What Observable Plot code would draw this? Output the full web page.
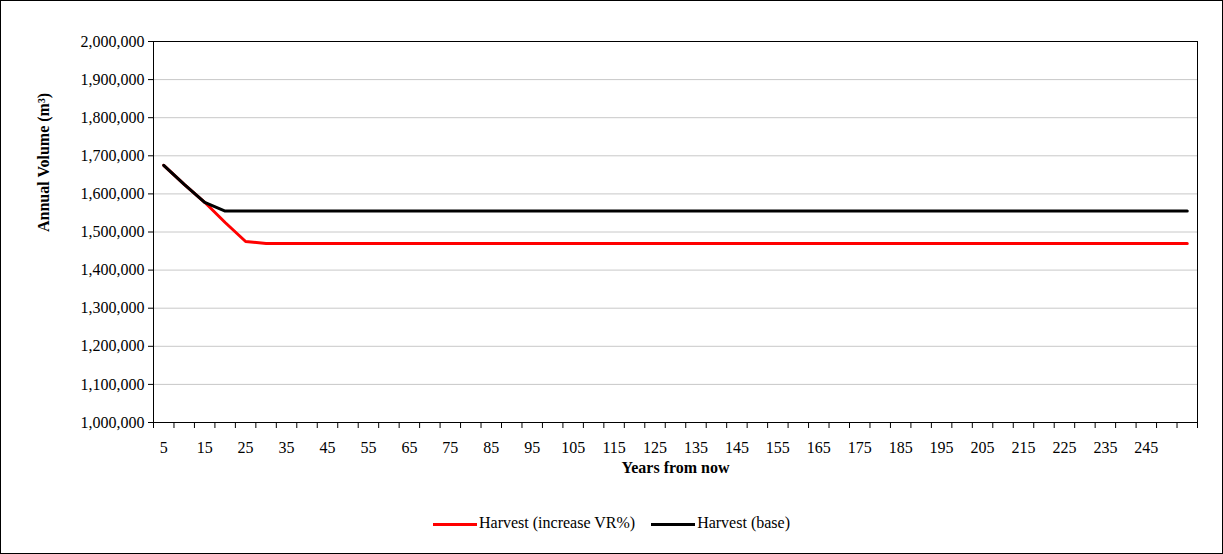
<!DOCTYPE html>
<html><head><meta charset="utf-8">
<script src="https://cdn.jsdelivr.net/npm/d3@7"></script>
<script src="https://cdn.jsdelivr.net/npm/@observablehq/plot@0.6"></script>
<style>
body{margin:0;background:#fff;font-family:"Liberation Serif","Times New Roman",serif;}
#wrap{position:relative;width:1221px;height:552px;border:1px solid #000;}
#legend{position:absolute;top:513px;left:0;width:100%;text-align:center;font-size:16px;}
.sw{display:inline-block;width:44px;height:3px;vertical-align:middle;margin-right:2px;}
</style></head><body>
<div id="wrap"><div id="plot"></div><div id="legend">
<span class="sw" style="background:#ff0000"></span>Harvest (increase VR%)&nbsp;&nbsp;&nbsp;
<span class="sw" style="background:#000"></span>Harvest (base)</div></div>
<script>
const years = d3.range(5, 256, 5);
const increaseHead = [1675000, 1625000, 1578000, 1525000, 1475000];
const increaseRest = 1470000;
const baseHead = [1675000, 1625000, 1578000];
const baseRest = 1555000;
const increaseVR = years.map((y, i) => i < increaseHead.length ? increaseHead[i] : increaseRest);
const base = years.map((y, i) => i < baseHead.length ? baseHead[i] : baseRest);
const tickLabels = d3.range(5, 246, 10);
const bandEdges = d3.range(2.5, 258, 5);

const rows = [];
years.forEach((y, i) => {
  rows.push({year: y, v: increaseVR[i], s: "inc"});
  rows.push({year: y, v: base[i], s: "base"});
});

const plot = Plot.plot({
  width: 1221, height: 500,
  marginTop: 40, marginBottom: 79, marginLeft: 152, marginRight: 25,
  style: {fontFamily: "Liberation Serif, serif", fontSize: "16px", color: "#000", background: "#fff"},
  x: {domain: [2.5, 257.5]},
  y: {domain: [1000000, 2000000]},
  marks: [
    Plot.gridY(d3.range(1100000, 2000001, 100000), {stroke: "#c8c8c8", strokeOpacity: 1}),
    Plot.frame({stroke: "#000"}),
    Plot.axisY(d3.range(1000000, 2000001, 100000), {tickFormat: d3.format(","), tickSize: 5, label: null}),
    Plot.axisX(bandEdges, {tickFormat: () => "", tickSize: 6, label: null}),
    Plot.axisX(tickLabels, {tickSize: 0, label: null, textAnchor: "middle", dy: 10}),
    Plot.line(rows.filter(d => d.s === "inc"), {x: "year", y: "v", stroke: "#ff0000", strokeWidth: 3}),
    Plot.line(rows.filter(d => d.s === "base"), {x: "year", y: "v", stroke: "#000", strokeWidth: 3}),
    Plot.text(["Years from now"], {frameAnchor: "bottom", dy: 50, fontWeight: "bold", fontSize: 16}),
    Plot.text(["Annual Volume (m³)"], {frameAnchor: "left", dx: -110, rotate: -90, fontWeight: "bold", fontSize: 16})
  ]
});
document.getElementById("plot").appendChild(plot);
</script></body></html>
